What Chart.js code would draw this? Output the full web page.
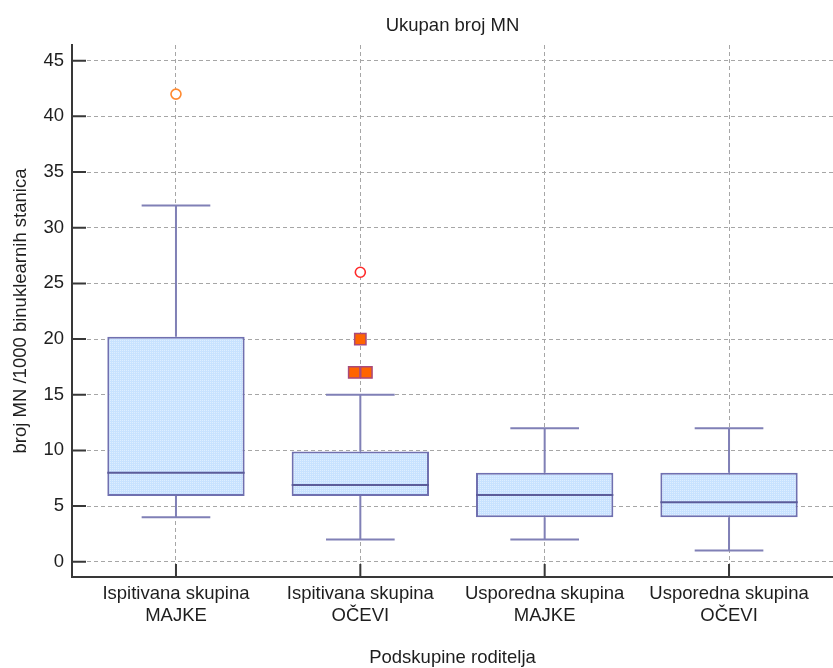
<!DOCTYPE html>
<html>
<head>
<meta charset="utf-8">
<title>Ukupan broj MN</title>
<script src="https://cdn.jsdelivr.net/npm/chart.js@4.4.1/dist/chart.umd.min.js"></script>
<style>
  html, body { margin: 0; padding: 0; background: #fff; }
</style>
</head>
<body>
<canvas id="myChart" width="833" height="668"></canvas>
<script>
// box plot data
var groups = [
  ["Ispitivana skupina", "MAJKE"],
  ["Ispitivana skupina", "OČEVI"],
  ["Usporedna skupina", "MAJKE"],
  ["Usporedna skupina", "OČEVI"]
];
var whiskerLow = [4, 2, 2, 1];
var q1 = [5.9, 5.9, 4, 4];
var median = [8, 6.9, 6, 5.35];
var q3 = [20.2, 9.9, 8, 8];
var whiskerHigh = [32, 15, 12, 12];

// far out values (circles) and outside values (squares)
var farGroup = [0, 1];
var farValues = [42, 26];
var outGroup = [1, 1, 1];
var outValues = [20, 17, 17];

var yTicks = [0, 5, 10, 15, 20, 25, 30, 35, 40, 45];

var FONT = "'Liberation Sans', Arial, sans-serif";
var textColor = "#1e1e1e";
var axisColor = "#383838";
var gridColor = "#a6a6a6";
var boxLine = "#7070b0";

function log(a) {
  console.log(a);
}

/* dotted light blue fill like the original */
function boxPattern() {
  var c = document.createElement("canvas");
  c.width = 2;
  c.height = 2;
  var g = c.getContext("2d");
  g.fillStyle = "#c8e2ff";
  g.fillRect(0, 0, 2, 2);
  g.fillStyle = "#deeeff";
  g.fillRect(0, 0, 1, 1);
  return g.createPattern(c, "repeat");
}

/* spread equal values a little so they don't hide each other */
function pointsFor(grp, vals) {
  var pts = [];
  for (var i = 0; i < vals.length; i++) {
    var same = [];
    for (var j = 0; j < vals.length; j++) {
      if (grp[j] == grp[i] && vals[j] == vals[i]) same.push(j);
    }
    var k = same.indexOf(i);
    var shift = (k - (same.length - 1) / 2) * 0.066;
    pts.push({ x: grp[i] + 1 + shift, y: vals[i] });
  }
  return pts;
}

var boxData = groups.map(function (g, i) {
  return { x: i + 1, y: [q1[i], q3[i]] };
});

// whiskers, caps and medians drawn on top of the bars
var boxParts = {
  id: "boxParts",
  afterDatasetsDraw: function (chart) {
    var ctx = chart.ctx;
    var yS = chart.scales.y;
    var bars = chart.getDatasetMeta(0).data;
    ctx.save();
    ctx.lineCap = "butt";
    for (var i = 0; i < bars.length; i++) {
      var b = bars[i];
      var cx = b.x;
      var half = b.width / 2;
      var pLow = yS.getPixelForValue(whiskerLow[i]);
      var pQ1 = yS.getPixelForValue(q1[i]);
      var pQ3 = yS.getPixelForValue(q3[i]);
      var pHigh = yS.getPixelForValue(whiskerHigh[i]);
      var pMed = yS.getPixelForValue(median[i]);

      ctx.strokeStyle = "#8080b6";
      ctx.lineWidth = 2;
      ctx.beginPath();
      ctx.moveTo(cx, pQ3);
      ctx.lineTo(cx, pHigh);
      ctx.moveTo(cx - half / 2, pHigh);
      ctx.lineTo(cx + half / 2, pHigh);
      ctx.moveTo(cx, pQ1);
      ctx.lineTo(cx, pLow);
      ctx.moveTo(cx - half / 2, pLow);
      ctx.lineTo(cx + half / 2, pLow);
      ctx.stroke();

      ctx.strokeStyle = "#5c5c9a";
      ctx.beginPath();
      ctx.moveTo(cx - half, pMed);
      ctx.lineTo(cx + half, pMed);
      ctx.stroke();
    }
    ctx.restore();
  }
};

// tick marks pointing into the plot, plus the chart title
var innerTicks = {
  id: "innerTicks",
  afterDraw: function (chart) {
    var ctx = chart.ctx;
    var area = chart.chartArea;
    var xS = chart.scales.x;
    var yS = chart.scales.y;
    ctx.save();
    ctx.strokeStyle = axisColor;
    ctx.lineWidth = 2;
    ctx.beginPath();
    yTicks.forEach(function (v) {
      var py = yS.getPixelForValue(v);
      ctx.moveTo(area.left, py);
      ctx.lineTo(area.left + 14, py);
    });
    groups.forEach(function (g, i) {
      var px = xS.getPixelForValue(i + 1);
      ctx.moveTo(px, area.bottom);
      ctx.lineTo(px, area.bottom - 13);
    });
    ctx.stroke();

    ctx.fillStyle = textColor;
    ctx.font = "18.5px " + FONT;
    ctx.textAlign = "center";
    ctx.textBaseline = "middle";
    ctx.fillText("Ukupan broj MN", (area.left + area.right) / 2, 26);
    ctx.restore();
  }
};

var ctx = document.getElementById("myChart");

var chart = new Chart(ctx, {
  type: "bar",
  data: {
    datasets: [
      {
        label: "Box",
        data: boxData,
        backgroundColor: boxPattern(),
        borderColor: boxLine,
        borderWidth: 2,
        borderSkipped: false,
        categoryPercentage: 1,
        barPercentage: 0.745
      },
      {
        type: "scatter",
        label: "Far out",
        data: pointsFor(farGroup, farValues),
        pointStyle: "circle",
        pointRadius: 5,
        pointBorderWidth: 1.6,
        pointBackgroundColor: "#ffffff",
        pointBorderColor: ["#ff8a30", "#ff2a2a"]
      },
      {
        type: "scatter",
        label: "Outside",
        data: pointsFor(outGroup, outValues),
        pointStyle: "rect",
        pointRadius: 8,
        pointBorderWidth: 1.5,
        pointBackgroundColor: "#ff6400",
        pointBorderColor: "#a84a7c"
      }
    ]
  },
  options: {
    responsive: false,
    animation: false,
    devicePixelRatio: 1,
    layout: { autoPadding: false, padding: { top: 45, left: 0, right: 0, bottom: 0 } },
    plugins: {
      legend: { display: false },
      tooltip: { enabled: false },
      title: { display: false }
    },
    scales: {
      x: {
        type: "linear",
        min: 0.436,
        max: 4.564,
        offset: false,
        afterBuildTicks: function (s) {
          s.ticks = groups.map(function (g, i) { return { value: i + 1 }; });
        },
        afterFit: function (s) { s.height = 91; },
        grid: { color: gridColor, lineWidth: 1, drawTicks: false, offset: false },
        border: { display: true, color: axisColor, width: 2, dash: [4, 3] },
        ticks: {
          autoSkip: false,
          maxRotation: 0,
          padding: 6,
          color: textColor,
          font: { family: FONT, size: 18.5, lineHeight: 1.2 },
          callback: function (v) { return groups[Math.round(v) - 1]; }
        },
        title: {
          display: true,
          text: "Podskupine roditelja",
          color: textColor,
          font: { family: FONT, size: 18.5, lineHeight: 1.1 },
          padding: { top: 0, bottom: 0 }
        }
      },
      y: {
        type: "linear",
        min: -1.37,
        max: 46.41,
        afterBuildTicks: function (s) {
          s.ticks = yTicks.map(function (v) { return { value: v }; });
        },
        afterFit: function (s) { s.width = 72; },
        grid: { color: gridColor, lineWidth: 1, drawTicks: false },
        border: { display: true, color: axisColor, width: 2, dash: [4, 3] },
        ticks: {
          padding: 8,
          color: textColor,
          font: { family: FONT, size: 18.5 }
        },
        title: {
          display: true,
          text: "broj MN /1000 binuklearnih stanica",
          color: textColor,
          font: { family: FONT, size: 18.5, lineHeight: 1.2 },
          padding: { top: 10, bottom: 0 }
        }
      }
    }
  },
  plugins: [boxParts, innerTicks]
});

log(chart.chartArea);
</script>
</body>
</html>
